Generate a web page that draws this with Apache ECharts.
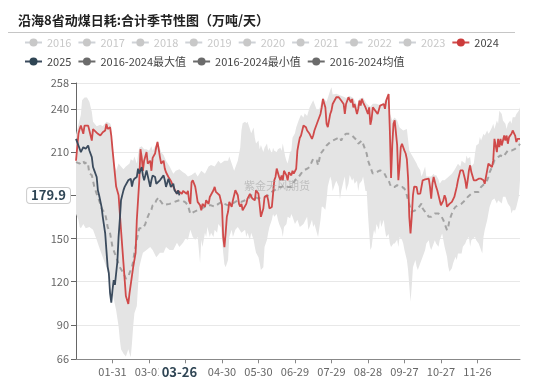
<!DOCTYPE html>
<html>
<head>
<meta charset="utf-8">
<script src="https://cdn.jsdelivr.net/npm/echarts@6/dist/echarts.min.js"></script>
<style>html,body{margin:0;padding:0;background:#fff}#c{width:550px;height:380px}</style>
</head>
<body>
<div id="c"></div>
<script>
// ---- data (day index of 2024 calendar, value in 万吨/天) ----
var titleText = '沿海8省动煤日耗:合计季节性图（万吨/天）';
var legendNames = ['2016','2017','2018','2019','2020','2021','2022','2023','2024','2025','2016-2024最大值','2016-2024最小值','2016-2024均值'];
var hiddenYears = ['2016','2017','2018','2019','2020','2021','2022','2023'];
var yMin = 66, yMax = 258;
var pointerDay = 85, pointerValue = 179.9;
var lastLabelDay = 330;

var s2024 = [[0,204],[2,222.7],[3,226],[4,228.4],[6,222.7],[7,228.4],[8,227.3],[10,228.4],[11,225],[13,218],[14,226],[15,225],[18,222.7],[20,221.5],[22,223.8],[24,225],[25,229.6],[26,226.1],[28,227.3],[29,221.5],[30,212],[33,186],[35,180],[37,156],[39,133],[41,110],[43,104.5],[44,112],[47,130],[49,140],[50,163],[52,190],[53,212],[54,206.5],[55,197],[56,204],[58,210],[59,202],[61,204],[62,197],[63,206],[65,209],[66,213.5],[67,217],[68,212],[69,206.5],[70,202],[72,204],[73,198.5],[74,196],[76,192.7],[77,194],[78,190],[80,186],[81,186],[83,181],[84,183],[85,184],[87,181],[88,183],[89,184],[91,181],[92,183],[93,176],[94,174],[95,189],[96,190.4],[98,186],[99,181],[100,175.4],[102,173],[103,169.6],[104,174],[106,172],[107,176.5],[109,174],[110,178.8],[111,180],[113,183.5],[114,185.8],[115,182.3],[116,183.4],[118,180],[119,180],[120,173],[121,151],[122,144],[123,153.5],[124,165],[125,168.5],[126,175.4],[128,172],[129,176.5],[131,183.5],[132,183.5],[133,180],[134,174],[135,172],[136,174],[137,169.6],[138,170.8],[140,174],[141,177.7],[142,176.5],[143,181],[144,182.3],[145,177.7],[146,178.8],[147,176.5],[148,183.5],[150,181],[151,173],[152,165],[154,170.8],[155,178.8],[157,180],[158,176.5],[159,170.8],[160,169.6],[161,171.9],[162,181],[163,190.4],[164,192.7],[165,198.5],[166,197.3],[167,192.7],[168,190.4],[169,193.8],[170,190.4],[171,197],[172,196.1],[173,193.8],[174,190.4],[175,196],[177,193.8],[178,197],[179,195],[180,193.8],[181,198.4],[182,211],[183,215.8],[184,220],[185,221.5],[187,228.5],[188,227.3],[189,227.3],[190,225],[191,225],[192,222.7],[194,219.2],[195,221.5],[196,225],[197,226],[199,231.9],[200,234.2],[201,236.5],[202,241],[203,246.9],[204,246.9],[205,241],[206,229.6],[207,227.3],[208,231.9],[209,236.5],[210,238.8],[211,243.4],[212,242.3],[214,248.1],[215,249.2],[216,248.1],[217,249.2],[218,245.8],[219,246.9],[220,243.4],[221,236.5],[222,243.4],[224,248.1],[225,246.9],[226,244.6],[227,246.9],[228,241.1],[229,243.4],[231,236.5],[232,240],[233,245.8],[234,242.3],[235,247],[236,244.6],[238,241.1],[239,242.3],[240,236.5],[241,241.1],[242,229],[243,233],[244,241.1],[246,238.8],[247,240],[248,236.5],[250,242.3],[251,241.1],[253,243.4],[254,240],[255,245.8],[257,250.4],[258,225],[259,192],[260,215],[261,229.6],[262,232],[263,231],[264,215],[265,190.4],[266,200],[267,213.5],[268,215.8],[269,213.4],[270,211],[271,209],[272,205],[273,192],[274,165],[275,153.5],[276,165],[277,180],[278,186],[279,187],[280,185.8],[281,181],[282,181],[283,181.1],[284,182.3],[285,190.4],[287,191],[288,191.5],[290,191.5],[291,186],[292,177.7],[293,188],[294,192.7],[295,192.7],[296,186],[297,183.5],[298,180],[299,178.8],[300,173],[301,174],[302,176.5],[303,180],[304,177.7],[305,172],[306,173],[307,174],[309,175.4],[310,176.5],[311,178.8],[313,185.8],[314,190.4],[316,197.3],[317,198.5],[318,197.3],[320,190.4],[321,184.6],[322,190.4],[323,197.3],[324,200.8],[325,196.1],[327,190.4],[328,191.5],[329,190.4],[331,191.5],[332,190.4],[333,191.5],[335,190.4],[336,188],[337,192.7],[338,197.3],[339,201.9],[340,203.1],[342,199.6],[343,204.2],[344,219.2],[345,218.1],[346,210],[347,219.2],[348,213.4],[349,219.2],[350,214.6],[352,221.5],[353,218.1],[354,221.5],[355,215.8],[356,220.4],[358,222.7],[359,225],[360,226.1],[361,221.5],[362,217],[363,219.2],[365,219.2]];

var s2025 = [[0,219.2],[1,218],[2,214.6],[3,212.3],[4,210],[6,213.4],[7,214.6],[8,212.3],[10,214.6],[11,211.1],[13,206.5],[14,199.6],[15,197.3],[17,192.7],[18,183.4],[19,180],[21,171.9],[22,165],[24,153.5],[25,141.9],[26,130.4],[27,125.8],[28,111.9],[29,105.4],[30,114.2],[31,121.1],[32,117.7],[33,125.8],[34,133.8],[35,151.1],[36,162.7],[37,176.5],[39,183.4],[40,185.8],[41,186.9],[43,190.4],[44,189.2],[45,191.5],[46,186],[47,190],[48,191.5],[50,192.7],[51,198.5],[52,195],[54,199.6],[55,193.8],[56,190.4],[58,197.3],[59,196.1],[61,185.8],[62,190.4],[63,193.8],[65,192.7],[66,188],[67,188],[69,190.4],[70,190.4],[72,193.8],[73,190.4],[74,185.8],[76,191.5],[77,192.7],[78,185.8],[80,188],[81,183.4],[83,181],[84,183.4],[85,179.9]];

var sMax = [[0,222],[2,229],[4,236],[5,246],[7,248],[9,248],[11,245],[13,238],[14,231],[17,228],[20,229],[22,228],[25,231],[28,230],[29,228],[30,214],[31,203],[33,197],[35,202],[37,200],[39,198],[41,200],[44,202],[45,205],[47,204],[48,207],[50,202],[51,208],[52,213],[54,214],[56,212],[58,212],[60,211],[62,214],[63,211],[65,214],[66,215],[67,218],[68,215],[70,210],[72,208],[74,204],[77,200],[80,195],[82,197],[85,198],[88,196],[90,195],[92,193],[95,194],[98,196],[100,193],[103,197],[106,195],[109,200],[111,201],[114,200],[117,204],[119,202],[122,204],[125,204],[126,207],[128,202],[130,197],[133,204],[135,213],[136,225],[137,230],[139,231],[140,230],[141,231],[143,226],[144,223],[146,227],[147,220],[148,216],[150,218],[151,212],[152,215],[154,210],[155,213],[157,216],[158,211],[159,213],[161,209],[162,213],[163,211],[165,210],[166,212],[168,213],[169,211],[170,216],[172,207],[173,204],[174,202],[176,210],[177,211],[178,220],[180,223],[181,227],[183,232],[184,234],[185,236],[187,234],[188,237],[190,235],[192,241],[195,246],[198,239],[200,240],[203,248],[206,245],[209,253],[210,255],[211,250],[214,250.5],[217,249.5],[220,248.5],[222,247.5],[225,249],[228,247.5],[231,242.5],[233,247],[236,248],[239,243.5],[242,241.5],[244,243.5],[247,243.5],[250,242.5],[253,244.5],[255,247],[257,251],[258,237],[260,232],[262,234],[264,232],[266,227],[269,225],[272,226],[274,211],[277,206.5],[280,202],[281,200],[283,197.3],[284,193],[285,195],[287,200],[288,193],[290,193],[292,193],[294,195],[295,193.5],[296,194],[298,191],[299,188],[301,190.4],[303,190.4],[306,192.7],[309,195],[311,197.3],[314,201.9],[316,200],[317,204],[320,202],[321,207.7],[322,205.4],[324,206.5],[325,200],[327,202],[328,208.8],[329,214.6],[331,215.8],[332,220.4],[333,218.1],[335,222.7],[336,221.5],[338,225],[339,222.7],[340,223.8],[342,227.3],[343,229.6],[344,226.1],[346,231.9],[347,229.6],[348,238.8],[350,236.5],[351,231.9],[353,229.6],[354,226.1],[355,229.6],[357,231.9],[358,229.6],[359,234.2],[361,234.2],[362,236.5],[364,238.8],[365,241.1]];

var sMin = [[0,167],[2,163],[3,158],[4,157],[6,160],[8,157],[11,158],[14,156],[17,149],[19,144],[22,137],[25,130],[28,121],[30,112],[33,100],[35,89],[36,80],[37,73],[39,70],[40,69],[41,68],[43,73],[44,70],[45,67.5],[46,77],[47,89],[48,98],[50,103],[51,117],[52,130],[54,137],[55,140],[58,142],[61,144],[63,142],[66,137],[69,140],[72,140],[74,144],[77,142],[80,142],[83,147],[85,144],[88,147],[90,150],[92,149],[94,156],[96,151],[98,149],[100,151],[101,142],[102,133],[103,149],[104,144],[106,154],[107,151],[108,158],[110,151],[111,154],[113,151],[114,156],[116,154],[117,160],[119,158],[120,150],[121,140],[122,132],[123,130],[125,135],[126,151],[128,156],[129,151],[131,156],[133,158],[136,154],[139,156],[140,151],[141,154],[143,149],[144,154],[146,149],[147,144],[148,140],[150,137],[151,133],[152,128],[154,130],[155,144],[157,149],[158,154],[159,158],[161,163],[162,167],[163,165],[165,167],[166,163],[167,160],[169,156],[170,151],[171,158],[173,160],[174,165],[176,164],[177,167],[178,165],[180,160],[182,163],[184,158],[187,160],[190,165],[191,156],[192,158],[194,163],[195,158],[196,160],[198,154],[199,151],[201,163],[202,172],[203,172],[205,170],[206,177],[207,186],[209,193],[210,190],[211,183],[213,188],[214,190],[216,186],[217,177],[218,183],[220,190],[221,193],[222,183],[224,188],[225,194],[227,190],[228,192],[229,188],[231,190],[232,183],[233,188],[235,190],[236,193],[238,183],[239,183],[240,167],[242,142],[243,144],[244,151],[245,156],[246,153],[247,160],[249,156],[250,163],[251,158],[253,163],[254,156],[255,151],[257,153],[258,146.5],[259,144],[261,146.5],[262,146.5],[264,149],[265,144],[266,151],[268,149],[269,146.5],[270,142],[272,135],[273,128],[274,117],[275,106],[276,117],[277,130],[279,135],[280,130.4],[281,128],[283,132.7],[284,135],[286,139.6],[287,141.9],[288,146.5],[290,148.8],[291,144.2],[292,141.9],[294,146.5],[295,148.8],[296,146.5],[298,144.2],[299,148.8],[301,153.5],[302,148.8],[303,144.2],[305,137.3],[306,130.4],[307,126.9],[309,129.2],[310,132.7],[312,137.3],[313,135],[314,139.6],[317,139.6],[318,144.2],[320,146.5],[321,148.8],[323,151.1],[324,144.2],[325,148.8],[328,151.1],[329,148.8],[331,146.5],[332,144.2],[334,139.6],[335,151.1],[336,155.8],[338,162.7],[339,167.3],[340,171.9],[342,176.5],[344,177.7],[346,174.2],[347,176.5],[350,174.2],[351,179],[353,179],[355,174.2],[357,171.9],[358,167.3],[359,169.6],[361,169.6],[362,171.9],[364,179],[365,190.4]];

var sMean = [[0,203],[3,202],[6,204],[7,202],[9,203],[10,201],[11,195],[13,194],[14,190],[15,186],[17,181],[18,179],[20,174],[21,171],[22,172],[24,167],[25,163],[26,158],[28,153.5],[29,149],[30,144],[33,137],[36,130],[39,126],[41,122],[43,123.5],[44,126],[46,130],[47,134],[48,140],[50,149],[51,153.5],[52,157],[55,157],[57,160],[58,163],[60,167],[62,170],[63,173],[65,174],[66,176.5],[68,178.5],[69,176.5],[70,176],[72,173],[74,173.5],[77,174],[80,175],[83,176],[85,176.5],[88,176],[90,175],[92,173],[94,167],[95,166],[97,168.5],[100,169.6],[103,170.8],[106,172],[109,173],[111,173],[114,172],[117,174],[120,175.4],[122,174],[125,173],[128,174],[131,175.4],[133,176.5],[136,175.4],[139,176.5],[142,177.7],[144,180],[147,178.8],[150,177.7],[152,178.8],[155,178.8],[158,180],[161,182.3],[163,183.4],[166,185.8],[169,185.8],[172,187],[174,185.8],[177,185.8],[180,190.4],[183,192.7],[185,195],[187,197.3],[190,198.4],[192,199.6],[195,205.4],[198,204.2],[199,200.8],[201,208.8],[203,211],[206,214.6],[209,217],[211,218],[214,219.2],[217,220.4],[218,218],[220,221.5],[222,222.7],[225,222.7],[227,221.5],[228,220.4],[231,218],[232,215.8],[235,218],[236,217],[239,208.8],[240,204.2],[242,199.6],[243,198.4],[244,195],[247,196],[250,197.3],[251,198.4],[253,196],[255,192.7],[257,190.4],[258,188],[259,185.8],[262,185.8],[264,187],[266,185.8],[268,185.8],[269,187],[270,184.6],[272,180],[273,176.5],[275,170.8],[276,168.5],[277,168.5],[279,169.6],[281,170.8],[284,174.2],[285,170.8],[287,168.5],[290,165],[292,165],[295,167.3],[296,168.5],[298,167.3],[300,166],[302,162.7],[303,160.4],[305,155.8],[306,158],[307,162.7],[309,167.3],[310,169.6],[312,172],[314,173],[317,174.2],[320,176.5],[322,178.8],[325,181],[328,182.3],[331,182.3],[333,185.8],[336,188],[338,190.4],[339,192.7],[340,196],[342,199.6],[344,204.2],[347,206.5],[349,207.7],[350,207.7],[351,206.5],[353,208.8],[355,211],[358,211],[361,212.3],[364,214.6],[365,215.8]];

// categories: month-day of a leap year (366 days)
var categories = [];
(function(){
  var mdays = [31,29,31,30,31,30,31,31,30,31,30,31];
  for (var m = 0; m < 12; m++) for (var d = 1; d <= mdays[m]; d++)
    categories.push((m < 9 ? '0' : '') + (m + 1) + '-' + (d < 10 ? '0' : '') + d);
})();

var FONT = '"Noto Sans CJK SC", "Noto Sans", sans-serif';
var chart = echarts.init(document.getElementById('c'), null, {renderer: 'canvas'});

var series = [];
hiddenYears.forEach(function(y){
  series.push({name: y, type: 'line', data: [], symbol: 'circle', showSymbol: false, itemStyle: {color: '#bbb'}});
});
series.push({
  name: 'band', type: 'custom', silent: true, z: 1, data: [[0, yMin]],
  renderItem: function(params, api){
    var pts = [];
    for (var i = 0; i < sMax.length; i++) pts.push(api.coord(sMax[i]));
    for (var j = sMin.length - 1; j >= 0; j--) pts.push(api.coord(sMin[j]));
    return {type: 'polygon', shape: {points: pts}, style: {fill: '#e4e4e4'}};
  }
});
series.push({name: '2016-2024最大值', type: 'line', data: [], symbol: 'circle', showSymbol: false, itemStyle: {color: '#6b6b6b'}, lineStyle: {color: '#6b6b6b'}});
series.push({name: '2016-2024最小值', type: 'line', data: [], symbol: 'circle', showSymbol: false, itemStyle: {color: '#6b6b6b'}, lineStyle: {color: '#6b6b6b'}});
series.push({name: '2016-2024均值', type: 'line', data: sMean, symbol: 'circle', showSymbol: false, z: 3,
  itemStyle: {color: '#6b6b6b'}, lineStyle: {color: '#a3a3a3', width: 2, type: [5, 4]}});
series.push({name: '2024', type: 'line', data: s2024, symbol: 'circle', showSymbol: false, z: 4,
  itemStyle: {color: '#cc3b3b'}, lineStyle: {color: '#d04a4a', width: 1.8}});
series.push({name: '2025', type: 'line', data: s2025, symbol: 'circle', showSymbol: false, z: 5,
  itemStyle: {color: '#2f4554'}, lineStyle: {color: '#3b4b5d', width: 1.8}});

var selected = {};
hiddenYears.forEach(function(y){ selected[y] = false; });

function showLabel(i){ return i > 0 && i <= lastLabelDay && i % 30 === 0; }

var option = {
  animation: false,
  textStyle: {fontFamily: FONT},
  title: {text: titleText, left: 13, top: 9, textStyle: {fontSize: 13, fontWeight: 'bold', color: '#222', fontFamily: FONT}},
  graphic: [
    {type: 'line', shape: {x1: 8, y1: 32.5, x2: 515, y2: 32.5}, style: {stroke: '#c6c6c6', lineWidth: 1}, silent: true},
    {type: 'text', left: 244, top: 180, style: {text: '紫金天风期货', fill: 'rgba(160,160,160,0.55)', font: '11px ' + FONT}, silent: true, z: 100}
  ],
  legend: {
    left: 19, top: 31, right: 40,
    itemWidth: 17, itemHeight: 10, itemGap: 6,
    textStyle: {fontSize: 11, lineHeight: 13, color: '#444', fontFamily: FONT},
    inactiveColor: '#c8c8c8',
    selected: selected,
    data: legendNames.map(function(n){
      if (n === '2016-2024均值') return {name: n, lineStyle: {color: '#6b6b6b', type: 'solid', width: 2}, itemStyle: {color: '#6b6b6b'}};
      return {name: n};
    })
  },
  grid: {left: 76, right: 30, top: 83, bottom: 20.7, containLabel: false},
  xAxis: {
    type: 'category', data: categories, boundaryGap: false,
    axisLine: {lineStyle: {color: '#888'}},
    axisTick: {length: 4, interval: showLabel, lineStyle: {color: '#888'}},
    axisLabel: {interval: showLabel, fontSize: 11, color: '#666', margin: 7, fontFamily: FONT},
    splitLine: {show: false},
    axisPointer: {show: true, type: 'line', value: pointerDay, status: 'show', snap: false,
      lineStyle: {opacity: 0},
      label: {show: true, backgroundColor: '#fff', color: '#2f4554', fontWeight: 'bold', fontSize: 13, padding: [1, 3], margin: 5, fontFamily: FONT}}
  },
  yAxis: {
    type: 'value', min: yMin, max: yMax, splitNumber: 6,
    axisLine: {show: true, lineStyle: {color: '#666'}},
    axisTick: {show: true, length: 5, lineStyle: {color: '#666'}},
    axisLabel: {fontSize: 11, color: '#666', margin: 7, fontFamily: FONT},
    splitLine: {lineStyle: {color: '#e8e8e8'}},
    axisPointer: {show: true, type: 'line', value: pointerValue, status: 'show', snap: false,
      lineStyle: {opacity: 0},
      label: {show: true, formatter: function(p){ return Number(p.value).toFixed(1); },
        backgroundColor: '#fff', borderColor: '#ccc', borderWidth: 1, color: '#2f4554', fontWeight: 'bold', fontSize: 13, padding: [1, 4], margin: 6, fontFamily: FONT}}
  },
  series: series
};
chart.setOption(option);
</script>
</body>
</html>
